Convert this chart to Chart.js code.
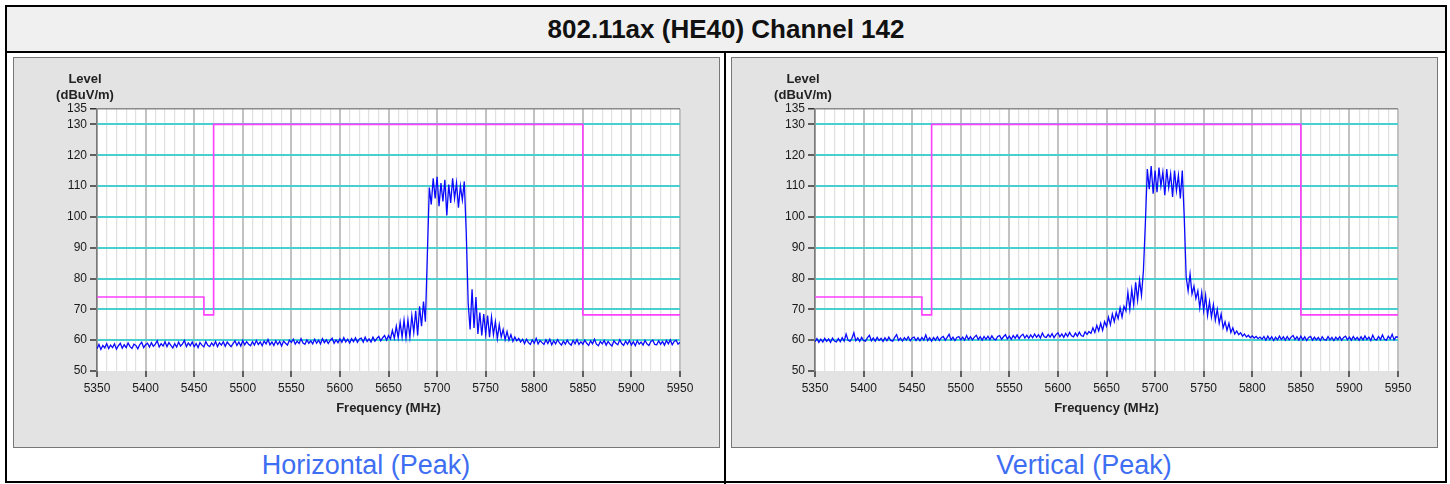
<!DOCTYPE html>
<html>
<head>
<meta charset="utf-8">
<title>802.11ax (HE40) Channel 142</title>
<script src="https://cdn.jsdelivr.net/npm/chart.js@4.4.1/dist/chart.umd.min.js"></script>
<style>
  html, body { margin: 0; padding: 0; background: #fff; }
  body { width: 1450px; height: 484px; position: relative; overflow: hidden; font-family: "Liberation Sans", Arial, sans-serif; }
  #frame { position: absolute; left: 5px; top: 5px; width: 1442px; height: 478px; border: 2px solid #000; box-sizing: border-box; }
  #title { position: absolute; left: 5px; top: 5px; width: 1442px; height: 48px; box-sizing: border-box;
           border: 2px solid #000; background: #f0f0f0; text-align: center; font-weight: bold; font-size: 26px;
           line-height: 44px; color: #111; }
  #divider { position: absolute; left: 724px; top: 51px; width: 2px; height: 433px; background: #000; }
  .panel { position: absolute; top: 57px; width: 707px; height: 391px; box-sizing: border-box;
           border: 1px solid #777; background: #e3e3e3; }
  .panel canvas { display: block; }
  .caption { position: absolute; top: 449px; width: 716px; text-align: center; font-size: 27px; line-height: 32px; color: #3e6ef2; }
</style>
</head>
<body>
<div id="frame"></div>
<div id="title">802.11ax (HE40) Channel 142</div>
<div id="divider"></div>
<div class="panel" style="left:13px"><canvas id="chartH" width="705" height="389"></canvas></div>
<div class="panel" style="left:731px"><canvas id="chartV" width="705" height="389"></canvas></div>
<div class="caption" style="left:8px">Horizontal (Peak)</div>
<div class="caption" style="left:726px">Vertical (Peak)</div>
<script>
// Sweep grid: 5350 MHz to 5950 MHz in 2 MHz bins
const sweepStart = 5350;
const sweepStep = 2;

// Peak level, horizontal polarisation (dBuV/m), one value per bin
const horizontalLevel = [
  57.2, 58.6, 57.0, 58.3, 57.5, 58.9, 57.3, 58.4, 57.6, 58.8,
  57.1, 58.2, 59.0, 57.4, 58.5, 57.6, 59.1, 57.9, 57.3, 58.7,
  58.3, 57.2, 58.6, 59.3, 57.6, 58.5, 59.0, 57.8, 59.2, 58.0,
  58.7, 59.8, 57.8, 58.9, 58.1, 59.5, 57.9, 59.2, 58.3, 57.5,
  58.9, 57.8, 59.4, 58.1, 58.8, 59.9, 57.9, 59.1, 58.2, 59.4,
  57.9, 58.9, 57.6, 59.2, 58.4, 57.8, 59.5, 58.3, 57.9, 59.1,
  58.2, 59.6, 57.9, 59.2, 58.4, 59.5, 58.0, 59.4, 58.6, 57.9,
  58.9, 59.8, 58.3, 59.4, 58.1, 59.9, 58.5, 59.5, 58.7, 58.2,
  59.5, 58.4, 59.9, 58.6, 59.4, 58.2, 59.7, 58.8, 60.2, 58.5,
  59.4, 58.3, 59.8, 58.6, 59.6, 58.1, 59.7, 59.0, 58.4, 60.0,
  59.3, 60.3, 58.7, 59.7, 58.9, 60.5, 59.1, 58.7, 60.1, 59.0,
  59.8, 58.8, 60.3, 59.0, 60.0, 58.8, 60.5, 59.2, 60.1, 58.9,
  59.9, 60.6, 59.0, 60.1, 59.2, 60.4, 59.3, 60.8, 59.4, 60.3,
  59.1, 60.5, 59.5, 60.8, 59.3, 60.4, 60.7, 59.4, 61.0, 59.6,
  60.4, 59.4, 61.0, 59.7, 60.6, 61.2, 59.8, 60.8, 61.5, 60.0,
  61.5, 60.4, 63.2, 60.6, 64.5, 60.8, 65.8, 61.0, 66.5, 60.7,
  66.5, 61.0, 68.0, 62.5, 69.5, 61.5, 71.0, 64.5, 72.5, 66.0,
  88.0, 109.5, 104.0, 112.5, 106.0, 113.0, 103.5, 111.0, 105.0, 112.0,
  100.5, 110.5, 104.5, 112.5, 106.0, 111.0, 103.0, 110.0, 105.5, 111.5,
  95.0, 72.0, 63.5, 76.5, 64.0, 74.0, 62.0, 69.0, 61.5, 68.5,
  62.0, 68.0, 61.0, 67.5, 61.8, 66.0, 60.5, 65.0, 61.0, 63.5,
  60.2, 62.8, 60.0, 61.8, 59.6, 61.0, 59.8, 60.6, 59.4, 60.3,
  58.9, 60.3, 59.2, 58.6, 60.1, 59.0, 60.6, 58.8, 59.9, 59.2,
  58.6, 60.1, 58.9, 60.3, 58.5, 59.8, 58.8, 60.2, 59.1, 58.4,
  59.7, 58.7, 60.0, 58.9, 58.4, 59.9, 58.8, 60.2, 58.6, 59.5,
  58.7, 60.0, 59.0, 58.3, 59.8, 58.8, 60.3, 58.7, 58.2, 59.6,
  58.8, 59.9, 58.4, 59.6, 58.7, 58.1, 59.8, 59.0, 58.5, 60.1,
  58.9, 58.3, 59.7, 58.7, 59.9, 58.4, 59.5, 58.2, 59.8, 58.7,
  59.4, 58.4, 59.9, 58.8, 58.3, 59.6, 60.0, 58.6, 58.5, 59.8,
  58.7, 59.6, 58.4, 59.9, 58.8, 60.1, 58.5, 59.6, 60.0, 58.7,
  59.3
];

// Peak level, vertical polarisation (dBuV/m), one value per bin
const verticalLevel = [
  59.5, 60.5, 59.3, 60.3, 59.4, 60.6, 59.6, 60.4, 59.3, 60.7,
  59.7, 59.4, 60.5, 59.5, 60.8, 59.7, 62.0, 60.0, 59.6, 60.6,
  62.4, 59.8, 60.7, 59.6, 60.9, 59.9, 59.7, 60.8, 61.6, 59.8,
  60.7, 59.7, 60.9, 59.9, 60.6, 59.6, 60.8, 59.8, 61.0, 59.9,
  59.7, 60.9, 61.8, 59.9, 60.7, 59.7, 60.8, 60.0, 61.1, 59.8,
  60.7, 61.0, 59.9, 60.8, 59.8, 60.9, 60.0, 61.7, 59.9, 60.8,
  59.7, 60.9, 60.0, 61.1, 59.9, 60.8, 61.2, 60.0, 60.9, 61.9,
  60.1, 61.0, 59.9, 60.9, 61.2, 60.1, 61.0, 60.0, 61.5, 60.2,
  61.1, 60.1, 61.0, 61.6, 60.2, 61.1, 60.0, 61.2, 60.3, 61.3,
  60.2, 61.4, 60.4, 60.1, 61.2, 61.5, 60.3, 61.1, 61.8, 60.4,
  61.3, 60.3, 61.5, 60.6, 61.7, 60.5, 61.4, 61.9, 60.7, 61.6,
  60.6, 61.7, 60.8, 62.0, 60.9, 61.8, 60.7, 62.3, 61.1, 60.9,
  61.9, 61.0, 62.1, 60.8, 61.8, 62.4, 61.1, 62.0, 60.9, 62.2,
  61.2, 62.5, 61.4, 61.1, 62.3, 61.3, 62.6, 61.5, 61.2, 62.7,
  61.9, 62.8, 62.2, 64.0, 62.5, 64.8, 63.0, 65.5, 63.2, 66.0,
  64.5, 67.5, 65.0, 68.5, 66.0, 69.0, 67.0, 70.5, 67.5, 71.0,
  69.5, 75.5, 70.0, 76.5, 71.5, 78.8, 73.0, 79.5, 74.5, 82.5,
  98.0, 115.5, 109.0, 116.5, 107.5, 115.0, 108.0, 116.0, 110.0, 114.5,
  107.0, 115.5, 109.5, 114.0, 106.5, 115.0, 108.5, 113.5, 106.0, 115.0,
  100.0, 80.5, 76.0, 81.5, 75.0, 77.5, 73.5, 76.0, 70.5, 75.5,
  69.5, 74.5, 68.0, 72.5, 67.5, 71.5, 66.5, 70.0, 65.5, 68.5,
  64.0, 66.0, 63.2, 65.5, 62.5, 64.0, 62.0, 63.0, 61.8, 62.4,
  61.3, 62.0, 61.0, 61.6, 60.8, 61.4, 60.7, 61.2, 60.5, 61.0,
  60.3, 61.2, 60.0, 61.3, 60.2, 61.1, 59.9, 61.0, 60.1, 61.3,
  60.2, 61.1, 60.0, 61.2, 60.1, 61.0, 61.5, 60.2, 61.1, 60.0,
  61.3, 60.1, 61.1, 59.9, 60.9, 61.2, 60.0, 61.0, 60.1, 60.9,
  59.9, 61.1, 60.2, 60.0, 61.2, 60.1, 60.9, 59.9, 61.0, 60.2,
  61.1, 60.0, 60.9, 61.3, 60.1, 61.0, 60.0, 61.2, 60.2, 60.9,
  60.0, 61.1, 60.1, 61.4, 60.2, 61.0, 59.9, 61.6, 60.3, 60.1,
  61.2, 60.2, 61.7, 60.3, 60.0, 61.3, 60.4, 61.9, 60.1, 61.1,
  61.0
];

// Emission limit mask (stepped)
const limitFreq  = [5350, 5460, 5460, 5470, 5470, 5850, 5850, 5950];
const limitLevel = [74, 74, 68.2, 68.2, 130, 130, 68.2, 68.2];

// Axis ticks
const levelTicks = [50, 60, 70, 80, 90, 100, 110, 120, 130, 135];
const freqLabels = [5350, 5400, 5450, 5500, 5550, 5600, 5650, 5700, 5750, 5800, 5850, 5900, 5950];

const FONT = '"Liberation Sans", Arial, sans-serif';

function toPoints(levels) {
  return levels.map((v, i) => ({ x: sweepStart + i * sweepStep, y: v }));
}

const plotBackground = {
  id: 'plotBackground',
  beforeDraw(chart) {
    const { ctx, chartArea: a } = chart;
    ctx.save();
    ctx.fillStyle = '#ffffff';
    ctx.fillRect(a.left, a.top, a.right - a.left, a.bottom - a.top);
    ctx.restore();
  }
};

const levelCaption = {
  id: 'levelCaption',
  afterDraw(chart) {
    const ctx = chart.ctx;
    ctx.save();
    ctx.font = 'bold 13px ' + FONT;
    ctx.fillStyle = '#222';
    ctx.textAlign = 'center';
    ctx.textBaseline = 'middle';
    ctx.fillText('Level', 71, 21);
    ctx.fillText('(dBuV/m)', 71, 37);
    ctx.restore();
  }
};

function buildChart(id, levels) {
  return new Chart(document.getElementById(id), {
    type: 'line',
    data: {
      datasets: [
        {
          data: toPoints(levels),
          borderColor: '#0a0aff',
          borderWidth: 1.3,
          pointRadius: 0,
          tension: 0,
          order: 1
        },
        {
          data: limitFreq.map((f, i) => ({ x: f, y: limitLevel[i] })),
          borderColor: '#ff40ff',
          borderWidth: 1.6,
          pointRadius: 0,
          tension: 0,
          order: 2
        }
      ]
    },
    options: {
      responsive: false,
      animation: false,
      devicePixelRatio: 1,
      events: [],
      layout: { padding: { left: 0, top: 51, right: 39, bottom: 0 } },
      plugins: { legend: { display: false }, tooltip: { enabled: false }, title: { display: false } },
      scales: {
        x: {
          type: 'linear',
          min: 5350,
          max: 5950,
          afterFit(scale) { scale.height = 76; },
          border: { display: false },
          grid: {
            color: c => (c.tick && c.tick.value % 50 === 0) ? '#c2c2c2' : '#e0e0e0',
            lineWidth: c => (c.tick && c.tick.value % 50 === 0) ? 2 : 1.2,
            tickColor: c => (c.tick && c.tick.value % 50 === 0) ? '#333' : 'rgba(0,0,0,0)',
            tickLength: 6,
            tickWidth: 1.5
          },
          ticks: {
            stepSize: 10,
            autoSkip: false,
            maxRotation: 0,
            padding: 4,
            color: '#1a1a1a',
            font: { family: FONT, size: 12 },
            callback: v => freqLabels.includes(v) ? String(v) : ''
          },
          title: {
            display: true,
            text: 'Frequency (MHz)',
            color: '#222',
            font: { family: FONT, size: 13, weight: 'bold' },
            padding: { top: 2, bottom: 31 }
          }
        },
        y: {
          type: 'linear',
          min: 50,
          max: 135,
          afterFit(scale) { scale.width = 83; },
          afterBuildTicks(scale) { scale.ticks = levelTicks.map(v => ({ value: v })); },
          border: { display: true, color: '#7a7a7a', width: 1.5 },
          grid: {
            color: c => {
              const v = c.tick && c.tick.value;
              if (v === 135) return '#8a8a8a';
              if (v === 50) return 'rgba(0,0,0,0)';
              return '#48d0d0';
            },
            lineWidth: c => (c.tick && c.tick.value === 135) ? 1.5 : 2,
            tickColor: '#333',
            tickLength: 7,
            tickWidth: 1.5
          },
          ticks: {
            padding: 3,
            color: '#1a1a1a',
            font: { family: FONT, size: 12 },
            callback: v => String(v)
          }
        }
      }
    },
    plugins: [plotBackground, levelCaption]
  });
}

buildChart('chartH', horizontalLevel);
buildChart('chartV', verticalLevel);
</script>
</body>
</html>
